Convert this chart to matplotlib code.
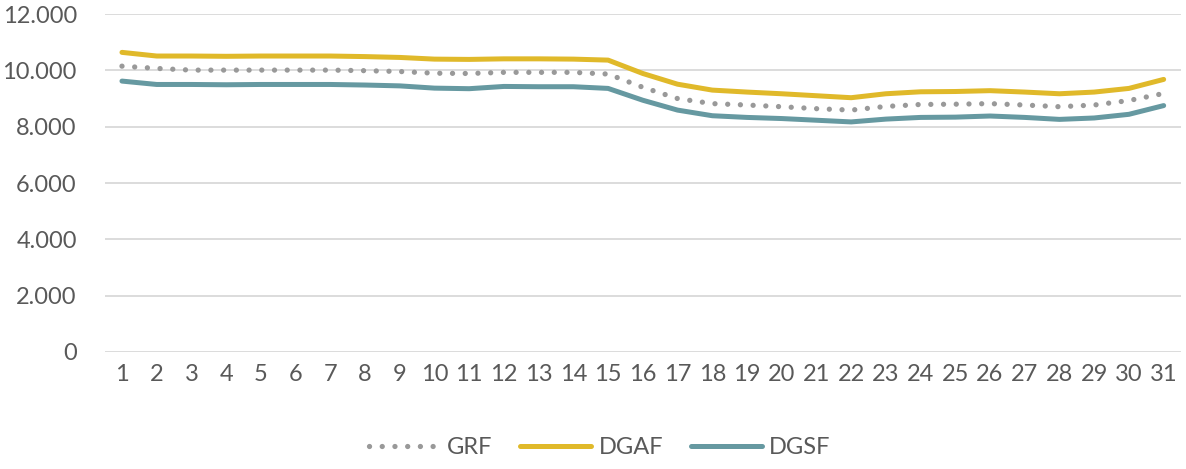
import numpy as np
import matplotlib.pyplot as plt

days = list(range(1, 32))

grf = [10150, 10070, 10010, 10010, 10010, 10010, 10010, 9990, 9960, 9900,
       9890, 9930, 9930, 9930, 9870, 9400, 9000, 8820, 8770, 8710,
       8640, 8590, 8720, 8790, 8800, 8820, 8770, 8710, 8770, 8930, 9180]
dgaf = [10640, 10510, 10510, 10500, 10510, 10510, 10510, 10490, 10460, 10400,
        10390, 10410, 10410, 10400, 10365, 9890, 9510, 9300, 9230, 9170,
        9100, 9030, 9170, 9240, 9250, 9280, 9230, 9170, 9230, 9360, 9680]
dgsf = [9620, 9500, 9500, 9490, 9500, 9500, 9500, 9480, 9450, 9370,
        9350, 9430, 9420, 9420, 9360, 8940, 8590, 8390, 8330, 8290,
        8230, 8170, 8270, 8330, 8340, 8380, 8330, 8260, 8310, 8440, 8750]

yticks = [0, 2000, 4000, 6000, 8000, 10000, 12000]
ylabels = ["0", "2.000", "4.000", "6.000", "8.000", "10.000", "12.000"]

plt.rcParams['font.family'] = ['Lato', 'DejaVu Sans']
txt = '#595959'

fig = plt.figure(figsize=(11.86, 4.69), dpi=100)
ax = fig.add_axes([0.0882, 0.2495, 0.9076, 0.7205])

ax.plot(days, grf, color='#999999', lw=3.8, linestyle=(0, (0.01, 2.4)),
        dash_capstyle='round', label='GRF', zorder=3)
ax.plot(days, dgaf, color='#E0B92A', lw=3.6, solid_capstyle='round',
        label='DGAF', zorder=3)
ax.plot(days, dgsf, color='#6699A1', lw=3.6, solid_capstyle='round',
        label='DGSF', zorder=3)

ax.set_xlim(0.5, 31.5)
ax.set_ylim(0, 12000)
ax.set_yticks(yticks)
ax.set_yticklabels(ylabels)
ax.set_xticks(days)
ax.set_xticklabels([str(d) for d in days])
ax.grid(axis='y', color='#D9D9D9', lw=1.3)
ax.set_axisbelow(True)
for s in ax.spines.values():
    s.set_visible(False)
ax.tick_params(length=0, labelsize=17, colors=txt)
ax.tick_params(axis='y', pad=20)
ax.tick_params(axis='x', pad=9)

leg = ax.legend(loc='upper center', bbox_to_anchor=(0.46, -0.19), ncol=3,
                frameon=False, fontsize=17, handlelength=3.0,
                columnspacing=1.2, handletextpad=0.3)
for t in leg.get_texts():
    t.set_color(txt)

fig.savefig('out.png', dpi=100)
